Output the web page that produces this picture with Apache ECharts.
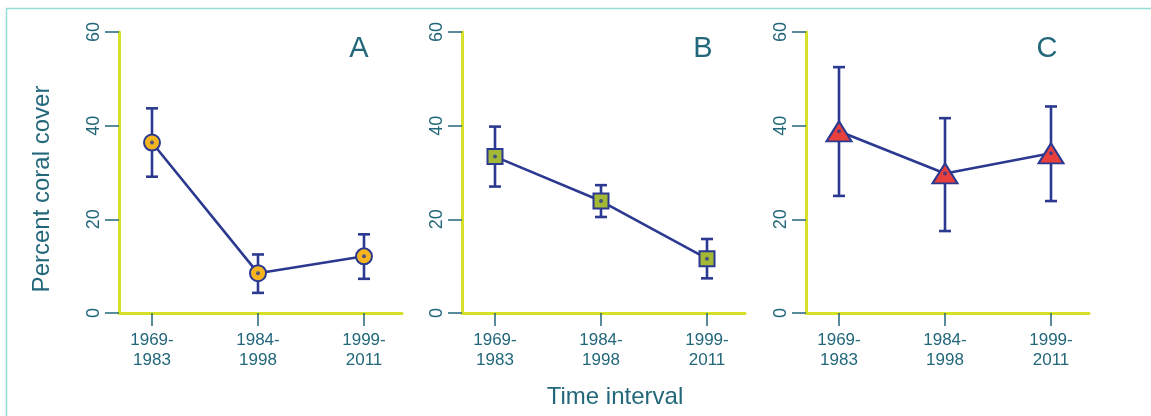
<!DOCTYPE html>
<html><head><meta charset="utf-8">
<script src="https://cdn.jsdelivr.net/npm/echarts@6/dist/echarts.min.js"></script>
<style>html,body{margin:0;padding:0;background:#fff}#c{width:1151px;height:416px}</style>
</head><body><div id="c"></div>
<script>
const categories = ['1969-\n1983', '1984-\n1998', '1999-\n2011'];
const panelLabels = ['A', 'B', 'C'];
const meanA = [36.4, 8.5, 12.1];
const lowA  = [29.1, 4.3, 7.3];
const highA = [43.7, 12.5, 16.8];
const meanB = [33.4, 23.9, 11.6];
const lowB  = [27.0, 20.5, 7.4];
const highB = [39.8, 27.3, 15.8];
const meanC = [38.8, 29.8, 34.1];
const lowC  = [25.0, 17.5, 23.9];
const highC = [52.5, 41.6, 44.1];
const yTitle = 'Percent coral cover';
const xTitle = 'Time interval';

const NAVY = '#2b3990';
const TEAL = '#22677a';
const YELLOW = '#d6e027';
const FONT = 'Liberation Sans';

const panels = [
  {mean: meanA, low: lowA, high: highA, symbol: 'circle', size: 16, fill: '#f6b51e'},
  {mean: meanB, low: lowB, high: highB, symbol: 'rect', size: 15, fill: '#a3b935'},
  {mean: meanC, low: lowC, high: highC, symbol: 'triangle', size: [25, 20], fill: '#e8403c'}
];
const lefts = [119, 462, 806];

const grid = [], xAxis = [], yAxis = [], series = [];
panels.forEach((p, i) => {
  const g = grid.length;
  // frame grid: yellow axis lines, y ticks & labels
  grid.push({left: lefts[i], top: 32, width: 283, height: 281});
  xAxis.push({type: 'value', gridIndex: g, min: 0, max: 1,
    splitLine: {show: false}, axisTick: {show: false}, axisLabel: {show: false},
    axisLine: {show: true, onZero: false, lineStyle: {color: YELLOW, width: 3}}});
  yAxis.push({type: 'value', gridIndex: g, min: 0, max: 60, interval: 20,
    splitLine: {show: false},
    axisLine: {show: true, onZero: false, lineStyle: {color: YELLOW, width: 3}},
    axisTick: {show: true, length: 14, lineStyle: {color: TEAL, width: 1.5}},
    axisLabel: {show: true, rotate: 90, margin: 16, color: TEAL, fontSize: 18, fontFamily: FONT}});
  // data grid: category x axis spanning first to last category
  grid.push({left: lefts[i] + 33, top: 32, width: 212, height: 281});
  xAxis.push({type: 'category', gridIndex: g + 1, data: categories, boundaryGap: false,
    splitLine: {show: false}, axisLine: {show: false},
    axisTick: {show: true, length: 13, lineStyle: {color: TEAL, width: 1.5}},
    axisLabel: {show: true, interval: 0, margin: 17, color: TEAL, fontSize: 17, lineHeight: 20, fontFamily: FONT}});
  yAxis.push({type: 'value', gridIndex: g + 1, min: 0, max: 60, show: false});

  const errData = p.mean.map((m, k) => [k, p.low[k], p.high[k]]);
  series.push({
    type: 'custom', xAxisIndex: g + 1, yAxisIndex: g + 1, z: 1, silent: true,
    data: errData,
    renderItem: function (params, api) {
      const x = api.value(0);
      const lo = api.coord([x, api.value(1)]);
      const hi = api.coord([x, api.value(2)]);
      const cap = 6;
      const st = {stroke: NAVY, lineWidth: 2.6};
      return {type: 'group', children: [
        {type: 'line', shape: {x1: lo[0], y1: lo[1], x2: hi[0], y2: hi[1]}, style: st},
        {type: 'line', shape: {x1: lo[0] - cap, y1: lo[1], x2: lo[0] + cap, y2: lo[1]}, style: st},
        {type: 'line', shape: {x1: hi[0] - cap, y1: hi[1], x2: hi[0] + cap, y2: hi[1]}, style: st}
      ]};
    }
  });
  series.push({
    type: 'line', xAxisIndex: g + 1, yAxisIndex: g + 1, z: 2, data: p.mean,
    symbol: p.symbol, symbolSize: p.size, showSymbol: true,
    lineStyle: {color: NAVY, width: 2.6},
    itemStyle: {color: p.fill, borderColor: NAVY, borderWidth: 2},
    emphasis: {disabled: true}
  });
  series.push({
    type: 'scatter', xAxisIndex: g + 1, yAxisIndex: g + 1, z: 3, data: p.mean,
    symbol: 'circle', symbolSize: 4, itemStyle: {color: NAVY}, silent: true
  });
});

const titleX = [359, 703, 1047];
const graphic = [
  {type: 'rect', left: 4, top: 6, shape: {width: 1200, height: 500},
   style: {fill: 'none', stroke: '#93dcd6', lineWidth: 1.5}, silent: true},
  {type: 'text', x: 42, y: 189, rotation: Math.PI / 2,
   style: {text: yTitle, fill: TEAL, font: '24px "Liberation Sans"', align: 'center', verticalAlign: 'middle'}},
  {type: 'text', x: 615, y: 397,
   style: {text: xTitle, fill: TEAL, font: '24px "Liberation Sans"', align: 'center', verticalAlign: 'middle'}}
];
panelLabels.forEach((t, i) => {
  graphic.push({type: 'text', x: titleX[i], y: 49,
    style: {text: t, fill: TEAL, font: '29px "Liberation Sans"', align: 'center', verticalAlign: 'middle'}});
});

const chart = echarts.init(document.getElementById('c'), null, {renderer: 'canvas'});
chart.setOption({animation: false, backgroundColor: '#fff', grid, xAxis, yAxis, series, graphic});
</script>
</body></html>
